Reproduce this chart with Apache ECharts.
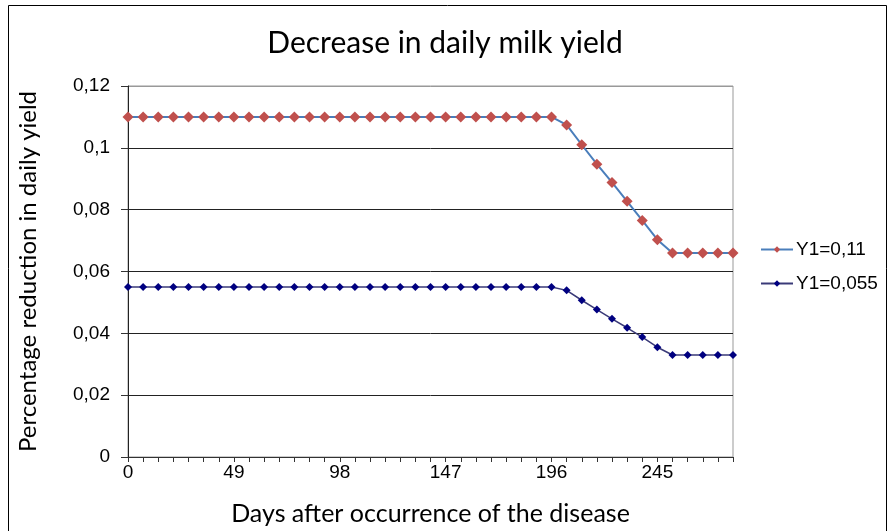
<!DOCTYPE html>
<html>
<head>
<meta charset="utf-8">
<title>Decrease in daily milk yield</title>
<script src="https://cdn.jsdelivr.net/npm/echarts@6/dist/echarts.min.js"></script>
<style>
  html, body { margin: 0; padding: 0; background: #fff; }
  #chart { width: 890px; height: 531px; }
</style>
</head>
<body>
<div id="chart"></div>
<script>
// Days after occurrence of the disease (weekly steps)
const days = [0, 7, 14, 21, 28, 35, 42, 49, 56, 63, 70, 77, 84, 91, 98, 105, 112, 119, 126, 133,
  140, 147, 154, 161, 168, 175, 182, 189, 196, 203, 210, 217, 224, 231, 238, 245, 252, 259, 266, 273, 280];

// Percentage reduction in daily yield, Y1 = 0.11
const reductionY1_011 = [0.11, 0.11, 0.11, 0.11, 0.11, 0.11, 0.11, 0.11, 0.11, 0.11,
  0.11, 0.11, 0.11, 0.11, 0.11, 0.11, 0.11, 0.11, 0.11, 0.11,
  0.11, 0.11, 0.11, 0.11, 0.11, 0.11, 0.11, 0.11, 0.11,
  0.1074, 0.101, 0.0947, 0.0888, 0.0827, 0.0765, 0.0703, 0.066, 0.066, 0.066, 0.066, 0.066];

// Percentage reduction in daily yield, Y1 = 0.055
const reductionY1_0055 = [0.055, 0.055, 0.055, 0.055, 0.055, 0.055, 0.055, 0.055, 0.055, 0.055,
  0.055, 0.055, 0.055, 0.055, 0.055, 0.055, 0.055, 0.055, 0.055, 0.055,
  0.055, 0.055, 0.055, 0.055, 0.055, 0.055, 0.055, 0.055, 0.055,
  0.0539, 0.0507, 0.0477, 0.0447, 0.0418, 0.0388, 0.0355, 0.033, 0.033, 0.033, 0.033, 0.033];

const seriesNames = ['Y1=0,11', 'Y1=0,055'];

const chart = echarts.init(document.getElementById('chart'), null, { renderer: 'canvas' });

const decimalComma = v => String(+(+v).toFixed(3)).replace('.', ',');

chart.setOption({
  animation: false,
  backgroundColor: '#ffffff',
  graphic: [{
    type: 'rect',
    shape: { x: 8.5, y: 5.5, width: 878, height: 540 },
    style: { fill: 'none', stroke: '#000', lineWidth: 1 },
    silent: true
  }],
  title: {
    text: 'Decrease in daily milk yield',
    left: 'center',
    top: 23,
    textStyle: { fontFamily: 'Lato', fontWeight: 'normal', fontSize: 30, color: '#000' }
  },
  legend: {
    orient: 'vertical',
    left: 755,
    top: 235,
    itemGap: 15,
    itemWidth: 32,
    itemHeight: 8,
    textStyle: { fontFamily: 'Liberation Sans', fontSize: 19, color: '#000', padding: [0, 0, 0, -2] },
    data: seriesNames
  },
  grid: { left: 128, right: 157, top: 86, bottom: 73, show: true, borderColor: '#999', borderWidth: 1 },
  xAxis: {
    type: 'category',
    data: days,
    boundaryGap: false,
    name: 'Days after occurrence of the disease',
    nameLocation: 'middle',
    nameGap: 44,
    nameTextStyle: { fontFamily: 'Lato', fontSize: 25, color: '#000' },
    axisLine: { lineStyle: { color: '#333', width: 1 } },
    axisTick: { show: true, interval: 0, length: 5, lineStyle: { color: '#333' } },
    axisLabel: { interval: 6, margin: 6, fontFamily: 'Liberation Sans', fontSize: 19, color: '#000' },
    splitLine: { show: false }
  },
  yAxis: {
    type: 'value',
    min: 0,
    max: 0.12,
    interval: 0.02,
    name: 'Percentage reduction in daily yield',
    nameLocation: 'middle',
    nameGap: 88,
    nameRotate: 90,
    nameTextStyle: { fontFamily: 'Lato', fontSize: 24, color: '#000' },
    axisLine: { show: true, lineStyle: { color: '#222', width: 1 } },
    axisTick: { show: true, length: 7, lineStyle: { color: '#333' } },
    axisLabel: { margin: 18, fontFamily: 'Liberation Sans', fontSize: 19, color: '#000', formatter: decimalComma },
    splitLine: { show: true, lineStyle: { color: ['#222', '#222', '#222', '#222', '#222', '#222', '#999'], width: 1 } }
  },
  series: [
    {
      name: seriesNames[0],
      type: 'line',
      data: reductionY1_011,
      symbol: 'diamond',
      symbolSize: 11,
      showAllSymbol: true,
      itemStyle: { color: '#c0504d' },
      lineStyle: { color: '#4a7ebb', width: 2 },
      z: 3
    },
    {
      name: seriesNames[1],
      type: 'line',
      data: reductionY1_0055,
      symbol: 'diamond',
      symbolSize: 8,
      showAllSymbol: true,
      itemStyle: { color: '#000080' },
      lineStyle: { color: '#3a3a78', width: 1.5 },
      z: 3
    }
  ]
});
</script>
</body>
</html>
